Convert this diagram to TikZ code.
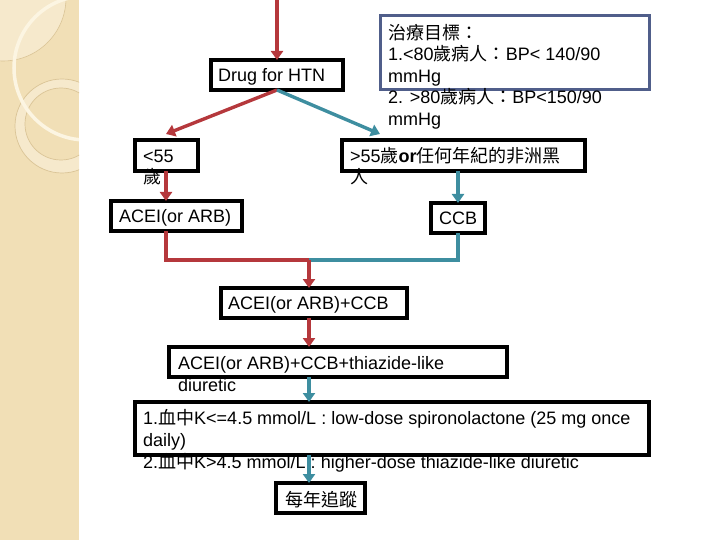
\documentclass[tikz,border=0pt]{standalone}
\usepackage{fontspec}
\setmainfont{Liberation Sans}
\newfontfamily\cjk{Noto Sans CJK TC}
\usetikzlibrary{arrows.meta}
\definecolor{redarrow}{RGB}{181,56,60}
\definecolor{tealarrow}{RGB}{62,142,160}
\definecolor{goalblue}{RGB}{80,94,138}
\definecolor{stripbg}{RGB}{241,223,182}
\definecolor{stripdisc}{RGB}{246,233,204}
\definecolor{stripline}{RGB}{218,196,150}
\definecolor{stripwhite}{RGB}{252,245,226}
\newcommand{\firstln}{\rule{0pt}{16pt}}
\begin{document}
\begin{tikzpicture}[x=1pt,y=-1pt,
  box/.style={draw=black,line width=3.2pt,rectangle,inner sep=0pt,outer sep=0pt,anchor=north west},
  txt/.style={inner sep=0pt,anchor=north west,align=left,font=\fontsize{18pt}{21.5pt}\selectfont},
  redline/.style={draw=redarrow,line width=3.4pt},
  tealline/.style={draw=tealarrow,line width=3.4pt},
  tip/.style={-{Triangle[width=12pt,length=9pt]}}
]
\useasboundingbox (0,0) rectangle (720,540);
% left decorative strip
\fill[stripbg] (0,0) rectangle (79,540);
\begin{scope}
  \clip (0,0) rectangle (79,540);
  \fill[stripdisc] (3,-2) circle (63);
  \draw[stripline,line width=0.6pt] (3,-2) circle (63);
  \fill[stripdisc,even odd rule] (62,126) circle (47) (61,124) circle (36);
  \draw[stripline,line width=0.7pt] (62,126) circle (47);
  \draw[stripline,line width=0.7pt] (61,124) circle (36);
  \draw[stripwhite,line width=3.5pt] (86,68) circle (72);
\end{scope}

% boxes
\node[box,minimum width=132pt,minimum height=30pt] (drug) at (211,60) {};
\node[box,draw=goalblue,line width=3pt,minimum width=269pt,minimum height=74pt] (goal) at (380,16) {};
\node[box,minimum width=63pt,minimum height=31pt] (young) at (135,140) {};
\node[box,minimum width=243pt,minimum height=31pt] (old) at (342,140) {};
\node[box,minimum width=131pt,minimum height=30pt] (acei) at (111,201) {};
\node[box,minimum width=54pt,minimum height=30pt] (ccb) at (431,203) {};
\node[box,minimum width=186pt,minimum height=30pt] (combo) at (221,288) {};
\node[box,minimum width=338pt,minimum height=30pt] (triple) at (169,347) {};
\node[box,minimum width=514pt,minimum height=53pt] (long) at (135,402) {};
\node[box,minimum width=89pt,minimum height=30pt] (follow) at (276,483) {};

% texts
\node[txt] (tdrug) at (218,65.5) {\firstln Drug for HTN};
\node[txt] (tgoal) at (388,23) {\firstln{\cjk 治療目標：}\\1.<80{\cjk 歲病人：}BP< 140/90\\mmHg\\2. >80{\cjk 歲病人：}BP<150/90\\mmHg};
\node[txt] (tyoung) at (143,146) {\firstln <55\\{\cjk 歲}};
\node[txt] (told) at (350,146) {\firstln >55{\cjk 歲}\textbf{or}{\cjk 任何年紀的非洲黑}\\{\cjk 人}};
\node[txt] (tacei) at (119,206.5) {\firstln ACEI(or ARB)};
\node[txt] (tccb) at (439,208.5) {\firstln CCB};
\node[txt] (tcombo) at (228,293.5) {\firstln ACEI(or ARB)+CCB};
\node[txt] (ttriple) at (178,353.5) {\firstln ACEI(or ARB)+CCB+thiazide-like\\diuretic};
\node[txt,font=\fontsize{18pt}{22pt}\selectfont] (tlong) at (143,408.5) {\firstln 1.{\cjk 血中}K<=4.5 mmol/L : low-dose spironolactone (25 mg once\\daily)\\2.{\cjk 血中}K>4.5 mmol/L : higher-dose thiazide-like diuretic};
\node[txt] (tfollow) at (285,490) {\firstln{\cjk 每年追蹤}};

% connectors
\coordinate (topin) at (277,0);
\coordinate (ytip) at (166,134);
\coordinate (otip) at (380,134);
\coordinate (jl) at (166,260);
\coordinate (jm) at (309,260);
\coordinate (jr) at (458,260);

\draw[redline,tip] (topin) -- (drug.north);
\draw[redline,tip] (drug.south) -- (ytip);
\draw[tealline,tip] (drug.south) -- (otip);
\draw[redline,tip] (jl |- young.south) -- (jl |- acei.north);
\draw[tealline,tip] (jr |- old.south) -- (jr |- ccb.north);
\draw[redline] (jl |- acei.south) -- (jl) -- (jm);
\draw[tealline] (jr |- ccb.south) -- (jr) -- (jm);
\draw[redline,tip] (jm) -- (jm |- combo.north);
\draw[redline,tip] (jm |- combo.south) -- (jm |- triple.north);
\draw[tealline,tip] (jm |- triple.south) -- (jm |- long.north);
\draw[tealline,tip] (jm |- long.south) -- (jm |- follow.north);
\end{tikzpicture}
\end{document}
